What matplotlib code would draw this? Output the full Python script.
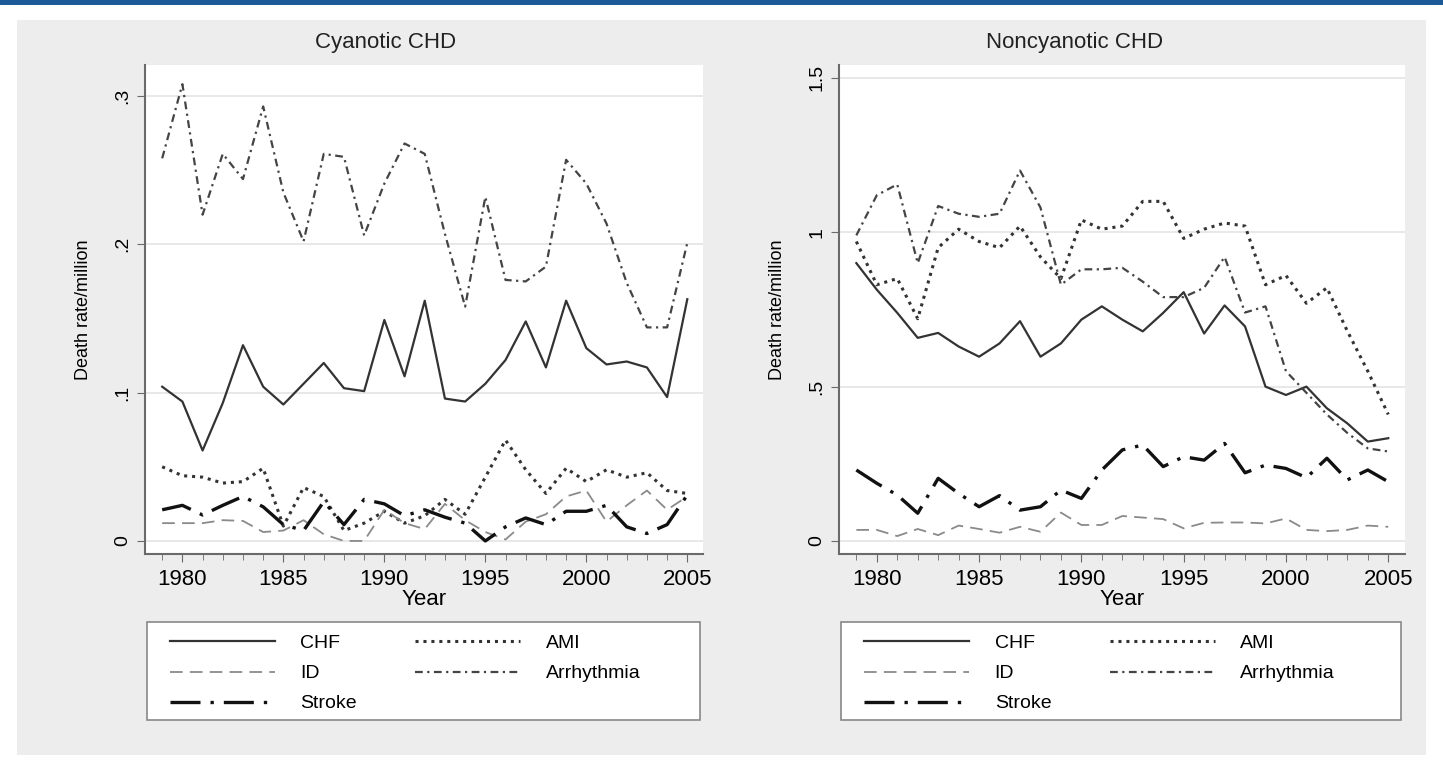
import numpy as np
from matplotlib import pyplot as plt
from matplotlib.patches import Rectangle
from matplotlib.ticker import MultipleLocator

plt.rcParams['font.family'] = ['Liberation Sans', 'DejaVu Sans']

# 연도
years = np.arange(1979, 2006)

# Cyanotic CHD (death rate / million)
cy_chf = [0.104, 0.094, 0.061, 0.093, 0.132, 0.104, 0.092, 0.106, 0.120, 0.103, 0.101, 0.149, 0.111, 0.162,
          0.096, 0.094, 0.106, 0.122, 0.148, 0.117, 0.162, 0.130, 0.119, 0.121, 0.117, 0.097, 0.163]
cy_ami = [0.050, 0.044, 0.043, 0.039, 0.040, 0.049, 0.010, 0.036, 0.030, 0.007, 0.012, 0.020, 0.012, 0.017,
          0.028, 0.018, 0.043, 0.068, 0.048, 0.032, 0.049, 0.040, 0.048, 0.043, 0.046, 0.034, 0.032]
cy_id = [0.012, 0.012, 0.012, 0.014, 0.0135, 0.006, 0.007, 0.014, 0.0045, 0.0, 0.0, 0.021, 0.012, 0.008,
         0.025, 0.014, 0.006, 0.001, 0.013, 0.018, 0.030, 0.034, 0.013, 0.024, 0.034, 0.021, 0.030]
cy_arr = [0.258, 0.308, 0.220, 0.261, 0.244, 0.293, 0.235, 0.202, 0.261, 0.259, 0.206, 0.241, 0.268, 0.261,
          0.207, 0.158, 0.232, 0.176, 0.175, 0.185, 0.257, 0.241, 0.214, 0.174, 0.144, 0.144, 0.201]
cy_stroke = [0.021, 0.024, 0.0175, 0.024, 0.030, 0.023, 0.011, 0.007, 0.0265, 0.011, 0.028, 0.025, 0.017, 0.021,
             0.016, 0.012, 0.0, 0.0095, 0.0155, 0.011, 0.020, 0.020, 0.024, 0.0095, 0.005, 0.011, 0.031]

# Noncyanotic CHD
nc_chf = [0.90, 0.814, 0.739, 0.658, 0.674, 0.63, 0.597, 0.64, 0.712, 0.597, 0.64, 0.717, 0.760, 0.717,
          0.679, 0.739, 0.806, 0.672, 0.763, 0.695, 0.50, 0.473, 0.50, 0.43, 0.381, 0.322, 0.333]
nc_ami = [0.97, 0.83, 0.85, 0.72, 0.95, 1.01, 0.97, 0.95, 1.02, 0.92, 0.85, 1.04, 1.01, 1.02,
          1.10, 1.10, 0.98, 1.01, 1.03, 1.02, 0.83, 0.86, 0.77, 0.82, 0.68, 0.55, 0.41]
nc_id = [0.036, 0.036, 0.016, 0.039, 0.019, 0.05, 0.039, 0.027, 0.046, 0.03, 0.092, 0.052, 0.052, 0.081,
         0.076, 0.071, 0.041, 0.059, 0.06, 0.06, 0.057, 0.073, 0.036, 0.032, 0.036, 0.05, 0.046]
nc_arr = [0.99, 1.12, 1.155, 0.90, 1.085, 1.06, 1.05, 1.06, 1.20, 1.08, 0.83, 0.88, 0.88, 0.885,
          0.84, 0.79, 0.79, 0.82, 0.92, 0.74, 0.76, 0.55, 0.48, 0.41, 0.35, 0.30, 0.29]
nc_stroke = [0.23, 0.187, 0.149, 0.09, 0.203, 0.154, 0.111, 0.147, 0.10, 0.111, 0.165, 0.138, 0.23, 0.295,
             0.311, 0.241, 0.273, 0.262, 0.316, 0.221, 0.246, 0.235, 0.205, 0.268, 0.198, 0.23, 0.192]

titles = ["Cyanotic CHD", "Noncyanotic CHD"]
y_ticks = [[0, 0.1, 0.2, 0.3], [0, 0.5, 1, 1.5]]
y_labels = [["0", ".1", ".2", ".3"], ["0", ".5", "1", "1.5"]]
y_lims = [(-0.0088, 0.321), (-0.042, 1.542)]

fig = plt.figure(figsize=(14.43, 7.69), dpi=100)
fig.patch.set_facecolor('white')

# 바깥 회색 배경 + 위쪽 파란 선
fig.patches.append(Rectangle((0.012, 0.018), 0.976, 0.956, transform=fig.transFigure,
                             facecolor='#ededed', edgecolor='none', zorder=-10))
fig.patches.append(Rectangle((0, 0.993), 1, 0.007, transform=fig.transFigure,
                             facecolor='#1b5a96', edgecolor='none', zorder=-9))

axes_pos = [[0.1005, 0.2796, 0.387, 0.636], [0.5814, 0.2796, 0.392, 0.636]]
title_x = [0.267, 0.745]
panel_data = [[cy_chf, cy_ami, cy_id, cy_arr, cy_stroke],
              [nc_chf, nc_ami, nc_id, nc_arr, nc_stroke]]

for i in range(2):
    ax = fig.add_axes(axes_pos[i])
    ax.set_facecolor('white')
    chf, ami, idd, arr, stroke = panel_data[i]

    l1, = ax.plot(years, chf, color='#333333', lw=1.6, ls='-', label='CHF')
    l2, = ax.plot(years, ami, color='#333333', lw=2.2, ls=(0, (1, 1.6)), label='AMI')
    l3, = ax.plot(years, idd, color='#8a8a8a', lw=1.3, ls=(0, (7, 4)), label='ID')
    l4, = ax.plot(years, arr, color='#444444', lw=1.6, ls=(0, (3.5, 2, 1, 2)), label='Arrhythmia')
    l5, = ax.plot(years, stroke, color='#111111', lw=2.4, ls=(0, (9, 3, 1, 3)), label='Stroke')

    ax.set_xlim(1978.15, 2005.8)
    ax.set_ylim(*y_lims[i])
    ax.set_xticks([1980, 1985, 1990, 1995, 2000, 2005])
    ax.xaxis.set_minor_locator(MultipleLocator(1))
    ax.set_yticks(y_ticks[i])
    ax.set_yticklabels(y_labels[i], rotation=90, va='center')
    ax.grid(axis='y', color='#e4e4e4', lw=1.2)
    ax.set_axisbelow(True)

    for s in ['top', 'right']:
        ax.spines[s].set_visible(False)
    for s in ['left', 'bottom']:
        ax.spines[s].set_color('#6a6a6a')
        ax.spines[s].set_linewidth(1.5)

    ax.tick_params(axis='x', which='major', labelsize=16, length=6, color='#6a6a6a', pad=5)
    ax.tick_params(axis='x', which='minor', length=4, color='#6a6a6a')
    ax.tick_params(axis='y', labelsize=14, length=6, color='#6a6a6a', pad=4)

    ax.set_xlabel("Year", fontsize=16, labelpad=-1)
    ax.set_ylabel("Death rate/million", fontsize=13, labelpad=16)
    fig.text(title_x[i], 0.945, titles[i], ha='center', va='center', fontsize=16, color='#222222')

    # 범례 상자 (흰 바탕, 회색 테두리)
    ax.add_patch(Rectangle((0.003, -0.339), 0.99, 0.2, transform=ax.transAxes, clip_on=False,
                           facecolor='white', edgecolor='#888888', lw=1.2))

    # 범례 ; 2열, 행 순서 CHF/AMI, ID/Arrhythmia, Stroke
    ax.legend([l1, l3, l5, l2, l4], ['CHF', 'ID', 'Stroke', 'AMI', 'Arrhythmia'],
              loc='upper left', bbox_to_anchor=(0.045, -0.165), ncol=2, fontsize=14,
              frameon=False, handlelength=5.4, handletextpad=1.3, columnspacing=3.0,
              borderaxespad=0, borderpad=0, labelspacing=0.64)

plt.savefig('out.png', dpi=100, facecolor=fig.get_facecolor())
